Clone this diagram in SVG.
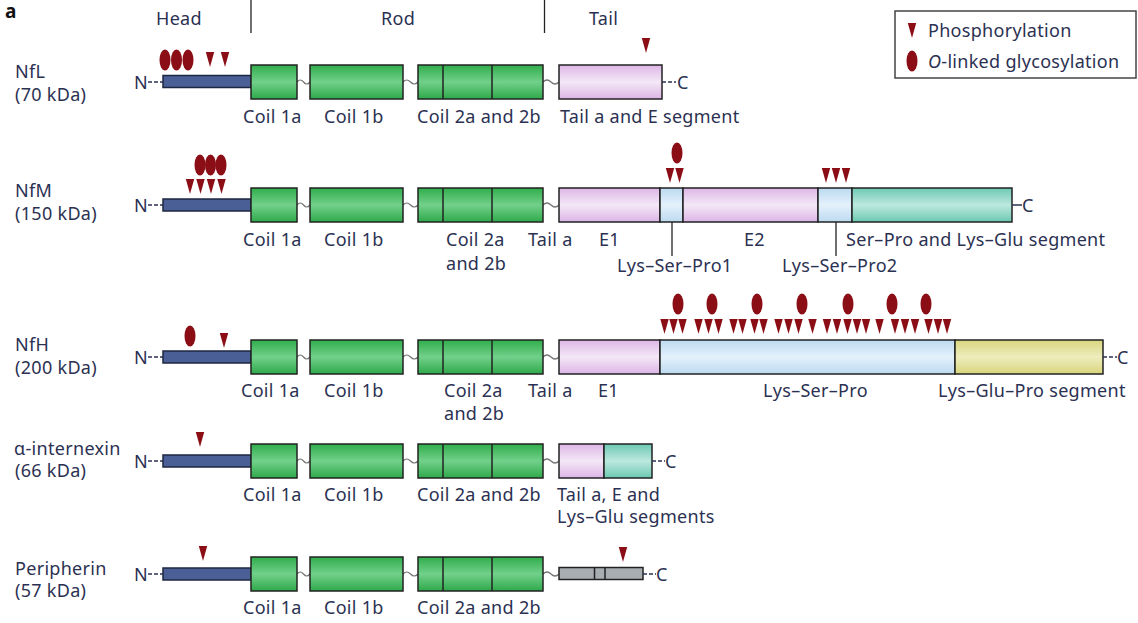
<svg xmlns="http://www.w3.org/2000/svg" xmlns:xlink="http://www.w3.org/1999/xlink" width="1138" height="623" viewBox="0 0 1138 623">
<style>
.t{font-family:"Noto Sans","Open Sans",sans-serif;font-size:18px;fill:#2b3152;letter-spacing:0.3px}
.b{stroke:#222;stroke-width:1.5}
.head{fill:#4a5f96;stroke:#1e2740;stroke-width:1.5}
.g{fill:url(#gG)}.p{fill:url(#gP)}.lb{fill:url(#gB)}.tl{fill:url(#gT)}.y{fill:url(#gY)}.gr{fill:#a8adb2}
.dv{stroke:#222;stroke-width:1.5}
.w{fill:none;stroke:#777;stroke-width:1.2}
.d{stroke:#2b3152;stroke-width:1.5;stroke-dasharray:4 2}
.s{stroke:#2b3152;stroke-width:1.5}
.ld{stroke:#222;stroke-width:1.3}
.m{fill:#8b0d15}
</style>
<defs>
<linearGradient id="gG" x1="0" y1="0" x2="0" y2="1"><stop offset="0" stop-color="#30ad4b"/><stop offset="0.5" stop-color="#72d08b"/><stop offset="1" stop-color="#2ea94a"/></linearGradient>
<linearGradient id="gP" x1="0" y1="0" x2="0" y2="1"><stop offset="0" stop-color="#ddb6e6"/><stop offset="0.5" stop-color="#f4e8f7"/><stop offset="1" stop-color="#dcb4e5"/></linearGradient>
<linearGradient id="gB" x1="0" y1="0" x2="0" y2="1"><stop offset="0" stop-color="#bcdaf1"/><stop offset="0.5" stop-color="#e4f1fb"/><stop offset="1" stop-color="#bcdaf1"/></linearGradient>
<linearGradient id="gT" x1="0" y1="0" x2="0" y2="1"><stop offset="0" stop-color="#6cc9b2"/><stop offset="0.5" stop-color="#bde9df"/><stop offset="1" stop-color="#6bc8b1"/></linearGradient>
<linearGradient id="gY" x1="0" y1="0" x2="0" y2="1"><stop offset="0" stop-color="#d9d67e"/><stop offset="0.5" stop-color="#eeedbd"/><stop offset="1" stop-color="#d8d57c"/></linearGradient>
<path id="tri" d="M-4.2,0 L4.2,0 L0,15 Z"/>
<ellipse id="gly" cx="0" cy="0" rx="5.5" ry="10.5"/>
</defs>
<rect width="1138" height="623" fill="#fff"/>

<g id="header">
<text x="5" y="18" style="font-family:'Noto Sans',sans-serif;font-size:19px;font-weight:bold;fill:#111">a</text>
<text class="t" x="156" y="25">Head</text>
<text class="t" x="381" y="25">Rod</text>
<text class="t" x="589" y="25">Tail</text>
<line x1="251" y1="0" x2="251" y2="33" stroke="#222" stroke-width="1.3"/>
<line x1="544.5" y1="0" x2="544.5" y2="33" stroke="#222" stroke-width="1.3"/>
</g>

<g id="legend">
<rect x="895" y="11" width="241" height="67" fill="#fff" stroke="#444" stroke-width="1.5"/>
<use xlink:href="#tri" x="912" y="23" class="m"/>
<use xlink:href="#gly" x="912" y="61" class="m"/>
<text class="t" x="928" y="37">Phosphorylation</text>
<text class="t" x="928" y="68"><tspan font-style="italic">O</tspan>-linked glycosylation</text>
</g>

<g id="connectors">
<path class="w" d="M297,82 q3.25,-4 6.5,0 t6.5,0 M403,82 q3.75,-4 7.5,0 t7.5,0 M543,82 q4,-4 8,0 t8,0"/>
<path class="w" d="M297,205 q3.25,-4 6.5,0 t6.5,0 M403,205 q3.75,-4 7.5,0 t7.5,0 M543,205 q4,-4 8,0 t8,0"/>
<path class="w" d="M297,357 q3.25,-4 6.5,0 t6.5,0 M403,357 q3.75,-4 7.5,0 t7.5,0 M543,357 q4,-4 8,0 t8,0"/>
<path class="w" d="M297,461 q3.25,-4 6.5,0 t6.5,0 M403,461 q3.75,-4 7.5,0 t7.5,0 M543,461 q4,-4 8,0 t8,0"/>
<path class="w" d="M297,574 q3.25,-4 6.5,0 t6.5,0 M403,574 q3.75,-4 7.5,0 t7.5,0 M543,574 q4,-4 8,0 t8,0"/>
<line class="ld" x1="672" y1="218" x2="672" y2="256"/>
<line class="ld" x1="836" y1="218" x2="836" y2="256"/>
</g>

<g id="NfL">
<text class="t" x="15" y="78">NfL</text>
<text class="t" x="15" y="101">(70 kDa)</text>
<text class="t" x="134" y="89">N</text>
<line class="d" x1="148" y1="82" x2="163" y2="82"/>
<rect class="head" x="163" y="75.5" width="88" height="12"/>
<rect class="g b" x="251" y="65" width="46" height="34"/>
<rect class="g b" x="310" y="65" width="93" height="34"/>
<rect class="g b" x="418" y="65" width="125" height="34"/>
<line class="dv" x1="443" y1="65" x2="443" y2="99"/>
<line class="dv" x1="492" y1="65" x2="492" y2="99"/>
<rect class="p b" x="559" y="65" width="103" height="34"/>
<line class="d" x1="662" y1="82" x2="676" y2="82"/>
<text class="t" x="677" y="89">C</text>
<g class="m">
<use xlink:href="#gly" x="165" y="60"/><use xlink:href="#gly" x="176.5" y="60"/><use xlink:href="#gly" x="188" y="60"/>
<use xlink:href="#tri" x="210" y="52"/><use xlink:href="#tri" x="225" y="52"/>
<use xlink:href="#tri" x="646" y="38"/>
</g>
<text class="t" x="243" y="123">Coil 1a</text>
<text class="t" x="324" y="123">Coil 1b</text>
<text class="t" x="417" y="123">Coil 2a and 2b</text>
<text class="t" x="560" y="123">Tail a and E segment</text>
</g>

<g id="NfM">
<text class="t" x="15" y="197">NfM</text>
<text class="t" x="15" y="220">(150 kDa)</text>
<text class="t" x="134" y="212">N</text>
<line class="d" x1="148" y1="205" x2="163" y2="205"/>
<rect class="head" x="163" y="199" width="88" height="12"/>
<rect class="g b" x="251" y="188" width="46" height="34"/>
<rect class="g b" x="310" y="188" width="93" height="34"/>
<rect class="g b" x="418" y="188" width="125" height="34"/>
<line class="dv" x1="443" y1="188" x2="443" y2="222"/>
<line class="dv" x1="492" y1="188" x2="492" y2="222"/>
<rect class="p b" x="559" y="188" width="101" height="34"/>
<rect class="lb b" x="660" y="188" width="23" height="34"/>
<rect class="p b" x="683" y="188" width="135" height="34"/>
<rect class="lb b" x="818" y="188" width="34" height="34"/>
<rect class="tl b" x="852" y="188" width="160" height="34"/>
<line class="s" x1="1012" y1="205" x2="1022" y2="205"/>
<text class="t" x="1022" y="212">C</text>
<g class="m">
<use xlink:href="#gly" x="200" y="165"/><use xlink:href="#gly" x="210.5" y="165"/><use xlink:href="#gly" x="221" y="165"/>
<use xlink:href="#tri" x="190" y="179"/><use xlink:href="#tri" x="200.5" y="179"/><use xlink:href="#tri" x="211" y="179"/><use xlink:href="#tri" x="221.5" y="179"/>
<use xlink:href="#gly" x="677" y="153"/>
<use xlink:href="#tri" x="670" y="168"/><use xlink:href="#tri" x="679.5" y="168"/>
<use xlink:href="#tri" x="826" y="168"/><use xlink:href="#tri" x="836" y="168"/><use xlink:href="#tri" x="846" y="168"/>
</g>
<text class="t" x="243" y="246">Coil 1a</text>
<text class="t" x="324" y="246">Coil 1b</text>
<text class="t" x="446" y="246">Coil 2a</text>
<text class="t" x="446" y="270">and 2b</text>
<text class="t" x="528" y="246">Tail a</text>
<text class="t" x="599" y="246">E1</text>
<text class="t" x="744" y="246">E2</text>
<text class="t" x="846" y="246">Ser–Pro and Lys–Glu segment</text>
<text class="t" x="617" y="272">Lys–Ser–Pro1</text>
<text class="t" x="782" y="272">Lys–Ser–Pro2</text>
</g>

<g id="NfH">
<text class="t" x="15" y="351">NfH</text>
<text class="t" x="15" y="374">(200 kDa)</text>
<text class="t" x="134" y="364">N</text>
<line class="d" x1="148" y1="357" x2="163" y2="357"/>
<rect class="head" x="163" y="351" width="88" height="12"/>
<rect class="g b" x="251" y="340" width="46" height="34"/>
<rect class="g b" x="310" y="340" width="93" height="34"/>
<rect class="g b" x="418" y="340" width="125" height="34"/>
<line class="dv" x1="443" y1="340" x2="443" y2="374"/>
<line class="dv" x1="492" y1="340" x2="492" y2="374"/>
<rect class="p b" x="559" y="340" width="101" height="34"/>
<rect class="lb b" x="660" y="340" width="295" height="34"/>
<rect class="y b" x="955" y="340" width="148" height="34"/>
<line class="d" x1="1103" y1="357" x2="1117" y2="357"/>
<text class="t" x="1117" y="364">C</text>
<g class="m">
<use xlink:href="#gly" x="190" y="336"/>
<use xlink:href="#tri" x="224" y="333"/>
<use xlink:href="#gly" x="678" y="304"/><use xlink:href="#gly" x="712" y="304"/><use xlink:href="#gly" x="757" y="304"/><use xlink:href="#gly" x="802" y="304"/><use xlink:href="#gly" x="848" y="304"/><use xlink:href="#gly" x="892" y="304"/><use xlink:href="#gly" x="926" y="304"/>
<use xlink:href="#tri" x="664.5" y="319"/><use xlink:href="#tri" x="673.5" y="319"/><use xlink:href="#tri" x="682.5" y="319"/>
<use xlink:href="#tri" x="698.5" y="319"/><use xlink:href="#tri" x="708.5" y="319"/><use xlink:href="#tri" x="718.5" y="319"/>
<use xlink:href="#tri" x="733.5" y="319"/><use xlink:href="#tri" x="742.5" y="319"/><use xlink:href="#tri" x="754.5" y="319"/><use xlink:href="#tri" x="763.5" y="319"/>
<use xlink:href="#tri" x="778.5" y="319"/><use xlink:href="#tri" x="788.5" y="319"/><use xlink:href="#tri" x="798.5" y="319"/>
<use xlink:href="#tri" x="812.5" y="319"/>
<use xlink:href="#tri" x="827" y="319"/><use xlink:href="#tri" x="837" y="319"/><use xlink:href="#tri" x="847.5" y="319"/><use xlink:href="#tri" x="857" y="319"/><use xlink:href="#tri" x="866" y="319"/>
<use xlink:href="#tri" x="879.5" y="319"/>
<use xlink:href="#tri" x="895" y="319"/><use xlink:href="#tri" x="905" y="319"/><use xlink:href="#tri" x="915" y="319"/>
<use xlink:href="#tri" x="928.5" y="319"/><use xlink:href="#tri" x="938" y="319"/><use xlink:href="#tri" x="947" y="319"/>
</g>
<text class="t" x="241" y="397">Coil 1a</text>
<text class="t" x="324" y="397">Coil 1b</text>
<text class="t" x="444" y="397">Coil 2a</text>
<text class="t" x="444" y="420">and 2b</text>
<text class="t" x="528" y="397">Tail a</text>
<text class="t" x="598" y="397">E1</text>
<text class="t" x="763" y="397">Lys–Ser–Pro</text>
<text class="t" x="938" y="397">Lys–Glu–Pro segment</text>
</g>

<g id="alpha-internexin">
<text class="t" x="14" y="455">α-internexin</text>
<text class="t" x="15" y="477">(66 kDa)</text>
<text class="t" x="134" y="468">N</text>
<line class="d" x1="148" y1="461" x2="163" y2="461"/>
<rect class="head" x="163" y="455" width="88" height="12"/>
<rect class="g b" x="251" y="444" width="46" height="34"/>
<rect class="g b" x="310" y="444" width="93" height="34"/>
<rect class="g b" x="418" y="444" width="125" height="34"/>
<line class="dv" x1="443" y1="444" x2="443" y2="478"/>
<line class="dv" x1="492" y1="444" x2="492" y2="478"/>
<rect class="p b" x="559" y="444" width="45" height="34"/>
<rect class="tl b" x="604" y="444" width="48" height="34"/>
<line class="d" x1="652" y1="461" x2="665" y2="461"/>
<text class="t" x="665" y="468">C</text>
<use xlink:href="#tri" x="200" y="432" class="m"/>
<text class="t" x="243" y="501">Coil 1a</text>
<text class="t" x="324" y="501">Coil 1b</text>
<text class="t" x="417" y="501">Coil 2a and 2b</text>
<text class="t" x="557" y="501">Tail a, E and</text>
<text class="t" x="557" y="523">Lys–Glu segments</text>
</g>

<g id="peripherin">
<text class="t" x="15" y="575">Peripherin</text>
<text class="t" x="15" y="597">(57 kDa)</text>
<text class="t" x="134" y="581">N</text>
<line class="d" x1="148" y1="574" x2="163" y2="574"/>
<rect class="head" x="163" y="568" width="88" height="12"/>
<rect class="g b" x="251" y="557" width="46" height="34"/>
<rect class="g b" x="310" y="557" width="93" height="34"/>
<rect class="g b" x="418" y="557" width="125" height="34"/>
<line class="dv" x1="443" y1="557" x2="443" y2="591"/>
<line class="dv" x1="492" y1="557" x2="492" y2="591"/>
<rect class="gr b" x="559" y="567.5" width="84" height="12"/>
<line class="dv" x1="594.5" y1="567.5" x2="594.5" y2="579.5"/>
<line class="dv" x1="605" y1="567.5" x2="605" y2="579.5"/>
<line class="d" x1="643" y1="574" x2="656" y2="574"/>
<text class="t" x="656" y="581">C</text>
<g class="m">
<use xlink:href="#tri" x="203" y="546"/>
<use xlink:href="#tri" x="623" y="547"/>
</g>
<text class="t" x="243" y="614">Coil 1a</text>
<text class="t" x="324" y="614">Coil 1b</text>
<text class="t" x="417" y="614">Coil 2a and 2b</text>
</g>
</svg>
